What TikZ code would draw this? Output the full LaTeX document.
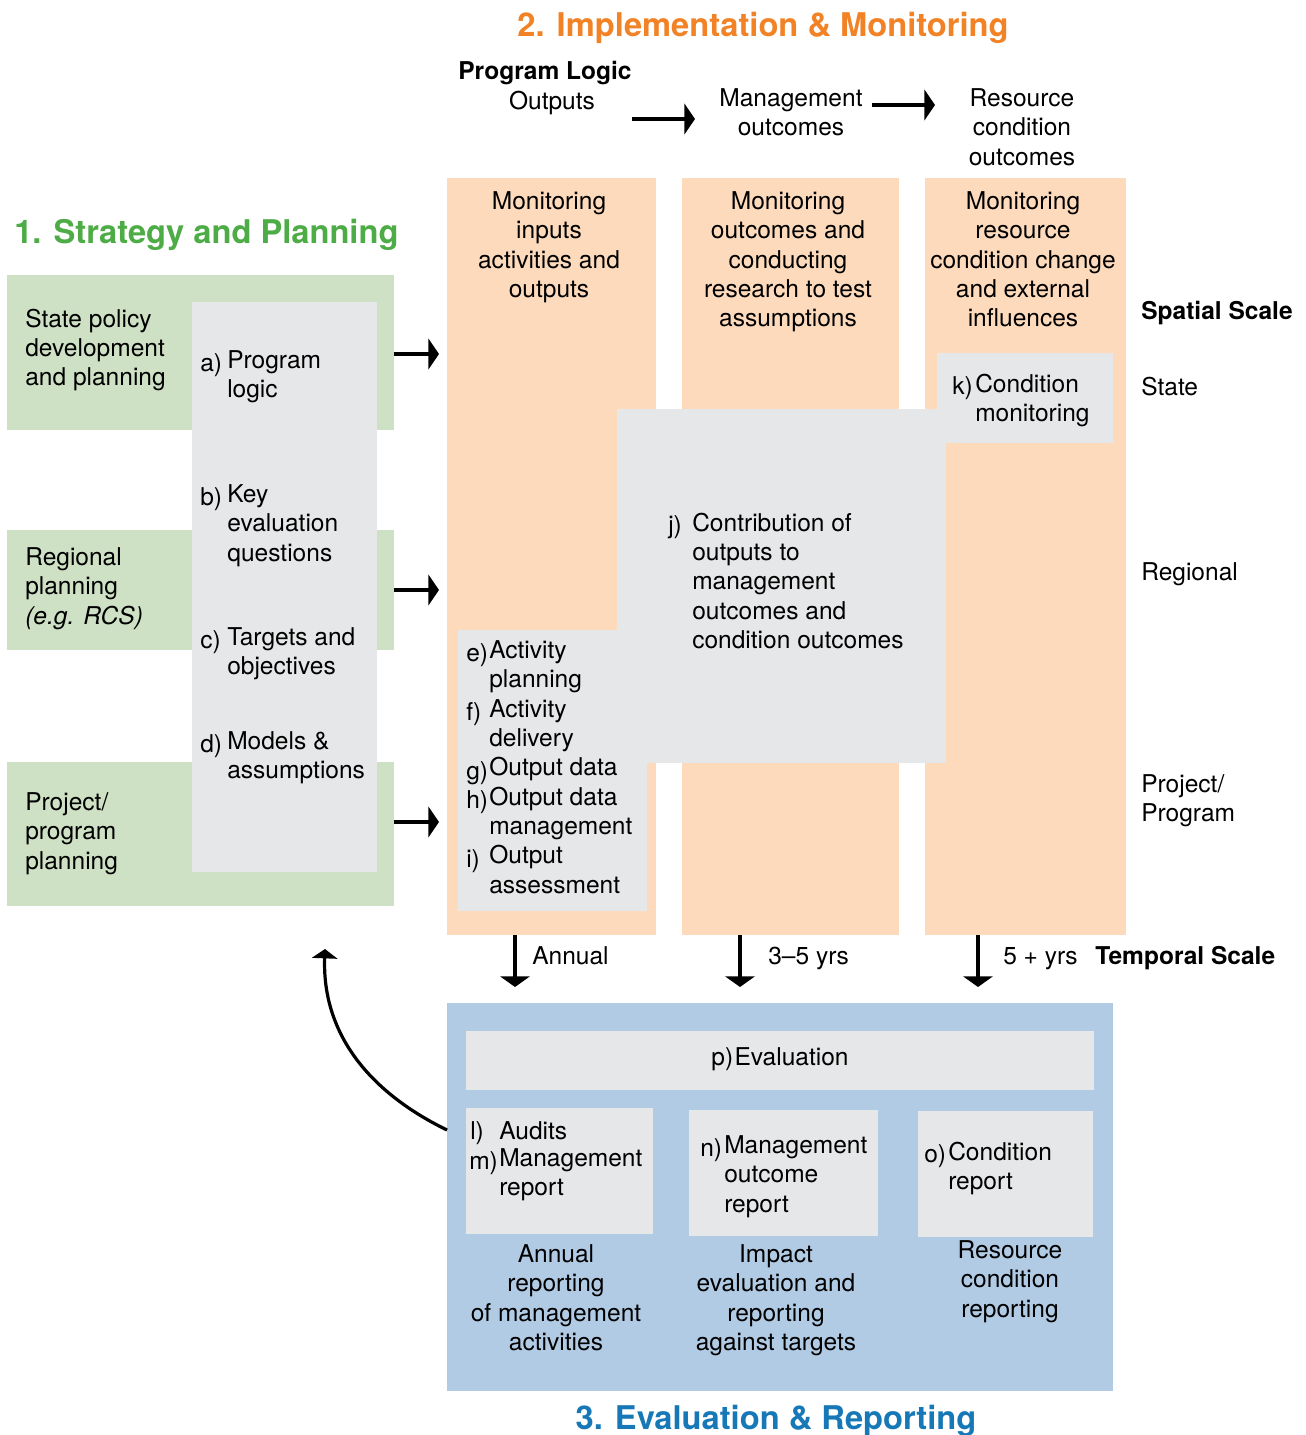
\documentclass[tikz,border=0pt]{standalone}
\usepackage{fontspec}
\setmainfont{TeX Gyre Heros}
\usetikzlibrary{fit,arrows.meta}
\definecolor{orgfill}{RGB}{253,218,188}
\definecolor{grnfill}{RGB}{207,225,197}
\definecolor{gryfill}{RGB}{230,231,232}
\definecolor{blufill}{RGB}{177,203,228}
\definecolor{orgtitle}{RGB}{242,130,38}
\definecolor{grntitle}{RGB}{78,172,70}
\definecolor{blutitle}{RGB}{22,120,182}
\begin{document}
\begin{tikzpicture}[x=0.75pt,y=-0.75pt,
  area/.style={inner sep=0pt, outer sep=0pt, draw=none},
  t/.style={font=\fontsize{18.4}{22}\selectfont, inner sep=0pt, text=black},
  tl/.style={t, align=left, anchor=north west, yshift=15.4pt, execute at begin node=\strut},
  tc/.style={t, align=center, anchor=north, yshift=15.4pt, execute at begin node=\strut},
  tb/.style={font=\bfseries\fontsize{18.4}{22}\selectfont, inner sep=0pt, anchor=base west},
  ttl/.style={font=\bfseries\fontsize{24.5}{29}\selectfont, inner sep=0pt, anchor=base},
  harrow/.style={line width=2.6pt, -{Triangle[length=8pt,width=23pt]}},
  varrow/.style={line width=2.6pt, -{Triangle[length=8pt,width=22pt]}},
  carrow/.style={line width=2.4pt, -{Triangle[length=7pt,width=19pt]}}]
\useasboundingbox (0,0) rectangle (1306,1435);

% ---------- titles ----------
\node[ttl, text=orgtitle] (title2) at (763,36) {2. Implementation \& Monitoring};
\node[ttl, text=grntitle, anchor=base west] (title1) at (14,243) {1. Strategy and Planning};
\node[ttl, text=blutitle] (title3) at (776,1429) {3. Evaluation \& Reporting};

% ---------- program logic header ----------
\node[tb, anchor=base] (plogic) at (545,79) {Program Logic};
\node[tc] (outputs) at (552,109) {Outputs};
\node[tc] (mgmt) at (791,109) {Management\\outcomes};
\node[tc] (rescond) at (1022,109) {Resource\\condition\\outcomes};
\coordinate (h1s) at (632,119); \coordinate (h1e) at (695,119);
\coordinate (h2s) at (872,105); \coordinate (h2e) at (935,105);
\draw[harrow] (h1s) -- (h1e);
\draw[harrow] (h2s) -- (h2e);

% ---------- orange columns ----------
\node[area, fill=orgfill, fit={(447,178) (656,935)}] (col1) {};
\node[area, fill=orgfill, fit={(682,178) (899,935)}] (col2) {};
\node[area, fill=orgfill, fit={(925,178) (1126,935)}] (col3) {};
\node[tc] (col1t) at (549,212) {Monitoring\\inputs\\activities and\\outputs};
\node[tc] (col2t) at (788,212) {Monitoring\\outcomes and\\conducting\\research to test\\assumptions};
\node[tc] (col3t) at (1023,212) {Monitoring\\resource\\condition change\\and external\\influences};

% ---------- gray boxes in implementation ----------
\node[area, fill=gryfill, fit={(617,409) (946,763)}] (jbox) {};
\node[area, fill=gryfill, fit={(937,353) (1113,443)}] (kbox) {};
\node[area, fill=gryfill, fit={(458,630) (647,911)}] (eibox) {};

\node[tl] (jl) at (668,533) {j)};
\node[tl] (jt) at (692,533) {Contribution of\\outputs to\\management\\outcomes and\\condition outcomes};
\node[tl] (kl) at (952,394) {k)};
\node[tl] (kt) at (975,394) {Condition\\monitoring};

\node[tl] (el) at (466,661) {e)};
\node[tl] (fl) at (466,720) {f)};
\node[tl] (gl) at (466,779) {g)};
\node[tl] (hl) at (466,808) {h)};
\node[tl] (il) at (466,867) {i)};
\node[tl] (eit) at (489,661) {Activity\\planning\\Activity\\delivery\\Output data\\Output data\\management\\Output\\assessment};

% ---------- strategy & planning ----------
\node[area, fill=grnfill, fit={(7,275) (394,430)}] (g1) {};
\node[area, fill=grnfill, fit={(7,530) (394,650)}] (g2) {};
\node[area, fill=grnfill, fit={(7,762) (394,906)}] (g3) {};
\node[area, fill=gryfill, fit={(192,302) (377,872)}] (gcol) {};

\node[tl] (g1t) at (25,329) {State policy\\development\\and planning};
\node[tl] (g2t) at (25,568) {Regional\\planning\\\textit{(e.g. RCS)}};
\node[tl] (g3t) at (25,813) {Project/\\program\\planning};

\node[tl] (al) at (200,371) {a)};
\node[tl] (at) at (227,371) {Program\\logic};
\node[tl] (bl) at (200,505) {b)};
\node[tl] (bt) at (227,505) {Key\\evaluation\\questions};
\node[tl] (cl) at (200,648) {c)};
\node[tl] (ct) at (227,648) {Targets and\\objectives};
\node[tl] (dl) at (200,752) {d)};
\node[tl] (dt) at (227,752) {Models \&\\assumptions};

\coordinate (s1) at (394,354); \coordinate (e1) at (439,354);
\coordinate (s2) at (394,590); \coordinate (e2) at (439,590);
\coordinate (s3) at (394,822); \coordinate (e3) at (439,822);
\draw[harrow] (s1) -- (e1);
\draw[harrow] (s2) -- (e2);
\draw[harrow] (s3) -- (e3);

% ---------- spatial scale ----------
\node[tb] (spatial) at (1141,319) {Spatial Scale};
\node[tl] (state) at (1141,395) {State};
\node[tl] (regional) at (1141,580) {Regional};
\node[tl] (project) at (1141,795) {Project/\\Program};

% ---------- temporal arrows ----------
\coordinate (d1s) at (515,935); \coordinate (d1e) at (515,987);
\coordinate (d2s) at (740,935); \coordinate (d2e) at (740,987);
\coordinate (d3s) at (978,935); \coordinate (d3e) at (978,987);
\draw[varrow] (d1s) -- (d1e);
\draw[varrow] (d2s) -- (d2e);
\draw[varrow] (d3s) -- (d3e);
\node[tl] (annual) at (532,964) {Annual};
\node[tl] (yrs35) at (768,964) {3–5 yrs};
\node[tl] (yrs5) at (1003,964) {5 + yrs};
\node[tb] (temporal) at (1095,964) {Temporal Scale};

% ---------- evaluation & reporting ----------
\node[area, fill=blufill, fit={(447,1003) (1113,1391)}] (blue) {};
\node[area, fill=gryfill, fit={(466,1031) (1094,1090)}] (pbox) {};
\node[t] (pt) at (780,1059) {p)\hspace{1pt}Evaluation};
\node[area, fill=gryfill, fit={(466,1108) (653,1234)}] (lmbox) {};
\node[area, fill=gryfill, fit={(689,1110) (878,1236)}] (nbox) {};
\node[area, fill=gryfill, fit={(918,1111) (1093,1237)}] (obox) {};

\node[tl] (ll) at (470,1139) {l)};
\node[tl] (lt) at (499,1139) {Audits};
\node[tl] (ml) at (469,1169) {m)};
\node[tl] (mt) at (499,1169) {Management\\report};
\node[tl] (nl) at (700,1156) {n)};
\node[tl] (nt) at (724,1156) {Management\\outcome\\report};
\node[tl] (ol) at (924,1162) {o)};
\node[tl] (ot) at (948,1162) {Condition\\report};

\node[tc] (rep1) at (556,1265) {Annual\\reporting\\of management\\activities};
\node[tc] (rep2) at (776,1265) {Impact\\evaluation and\\reporting\\against targets};
\node[tc] (rep3) at (1010,1261) {Resource\\condition\\reporting};

% ---------- feedback arrow ----------
\coordinate (fbs) at (447,1130);
\coordinate (fbe) at (325,949);
\draw[carrow] (fbs) .. controls (365,1090) and (322,1030) .. (fbe);
\end{tikzpicture}
\end{document}
